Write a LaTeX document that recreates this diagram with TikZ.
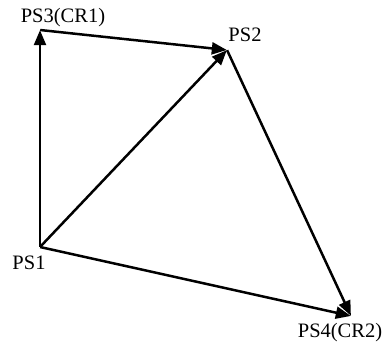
\documentclass[tikz,border=0pt]{standalone}
\usepackage{fontspec}
\setmainfont{Liberation Serif}
\usetikzlibrary{arrows.meta}
\begin{document}
\begin{tikzpicture}[x=1pt,y=-1pt,
  pt/.style={inner sep=0pt,minimum size=0pt},
  lbl/.style={inner sep=0pt,font=\fontsize{20.5}{20.5}\selectfont},
  edge/.style={line width=2.5pt,-{Triangle[length=15pt,width=12pt]}, line join=miter}]
\useasboundingbox (0,0) rectangle (388,345);
\node[pt] (p1) at (40,247) {};
\node[pt] (p3) at (40,30) {};
\node[pt] (p2) at (227,50) {};
\node[pt] (p4) at (351,316) {};
\node[lbl] (l3) at (63,18) {PS3(CR1)};
\node[lbl] (l2) at (245,35) {PS2};
\node[lbl] (l1) at (29,263) {PS1};
\node[lbl] (l4) at (340,333) {PS4(CR2)};
\draw[edge] (p1) -- (p3);
\draw[edge] (p3) -- (p2);
\draw[edge] (p1) -- (p2);
\draw[edge] (p2) -- (p4);
\draw[edge] (p1) -- (p4);
\end{tikzpicture}
\end{document}
